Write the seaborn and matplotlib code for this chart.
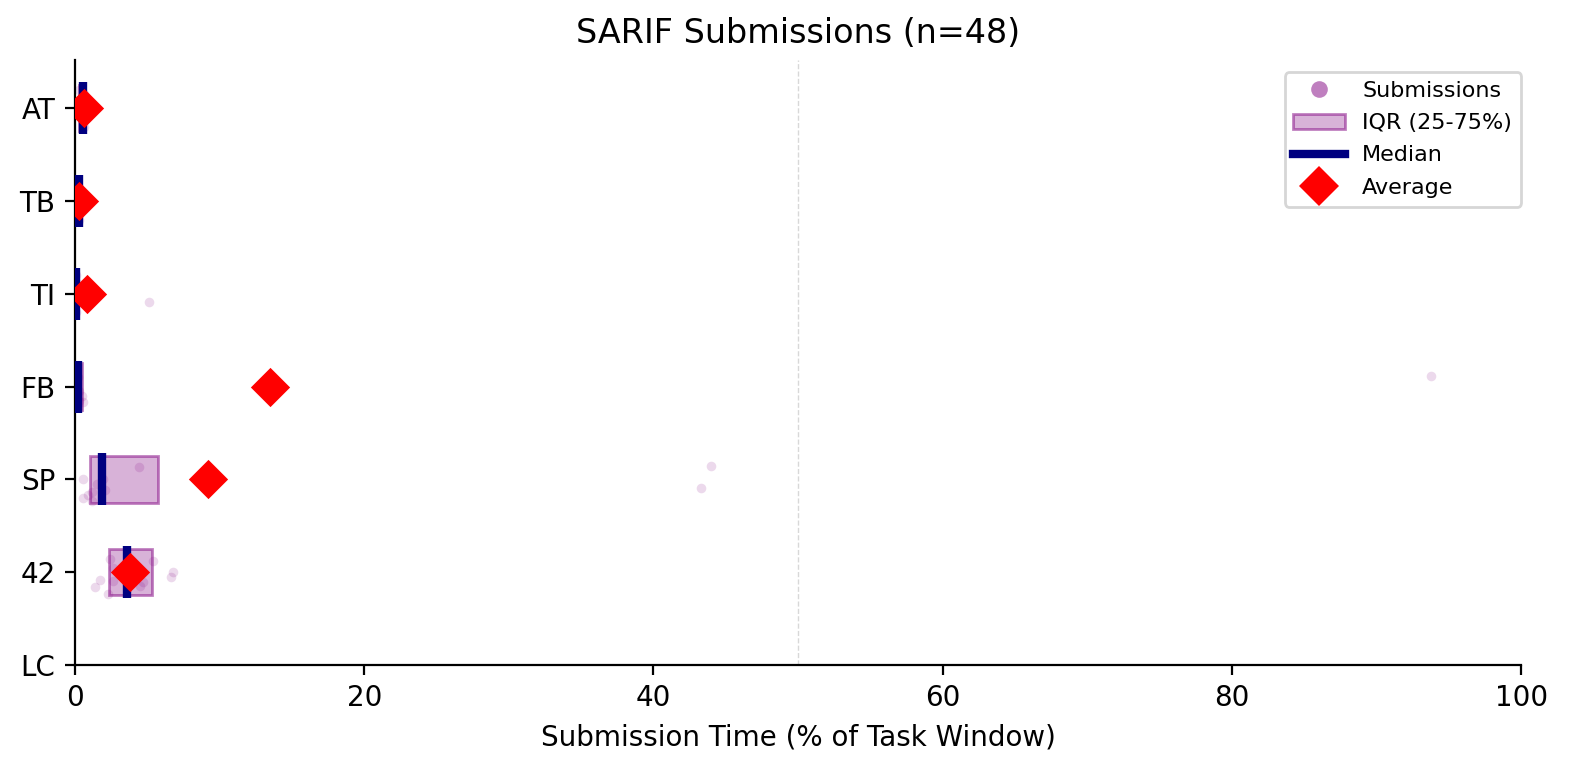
import numpy as np
import pandas as pd
import matplotlib
matplotlib.use("Agg")
import matplotlib.pyplot as plt
import seaborn as sns
from matplotlib.lines import Line2D
from matplotlib.patches import Patch

# categories, top to bottom
teams = ["AT", "TB", "TI", "FB", "SP", "42", "LC"]

# summary stats per team (% of task window)
q1 = [0.30, 0.15, 0.05, 0.10, 1.05, 2.35]
q3 = [0.60, 0.30, 0.15, 0.45, 5.75, 5.30]
medians = [0.55, 0.25, 0.10, 0.20, 1.85, 3.60]
averages = [0.65, 0.30, 0.80, 13.5, 9.2, 3.8]

# individual submissions and their vertical jitter
at_x = [0.30, 0.40, 0.50, 0.55, 0.60, 0.60]
at_dy = [-0.20, -0.10, 0.00, 0.10, 0.20, -0.15]
tb_x = [0.10, 0.20, 0.25, 0.30, 0.35]
tb_dy = [-0.15, 0.05, 0.20, -0.05, 0.10]
ti_x = [0.05, 0.08, 0.10, 0.10, 0.12, 0.15, 5.1]
ti_dy = [-0.20, -0.05, 0.10, 0.20, -0.12, 0.05, 0.09]
fb_x = [0.10, 0.20, 0.25, 0.30, 0.45, 0.55, 93.8]
fb_dy = [-0.20, -0.10, 0.05, 0.15, 0.10, 0.17, -0.12]
sp_x = [0.58, 4.43, 1.90, 2.07, 1.20, 0.92, 0.58, 1.20, 43.98, 43.3, 1.50]
sp_dy = [0.00, -0.13, 0.00, 0.11, 0.14, 0.17, 0.20, 0.23, -0.14, 0.09, 0.05]
t42_x = [2.42, 2.60, 5.42, 6.75, 6.64, 1.73, 2.65, 1.38, 2.30, 4.50, 3.20, 4.70]
t42_dy = [-0.14, -0.05, -0.12, 0.00, 0.05, 0.08, 0.09, 0.16, 0.23, 0.15, -0.02, 0.10]

groups = [(at_x, at_dy), (tb_x, tb_dy), (ti_x, ti_dy), (fb_x, fb_dy),
          (sp_x, sp_dy), (t42_x, t42_dy)]
rows = []
for i, (xs, dys) in enumerate(groups):
    for x, dy in zip(xs, dys):
        rows.append({"team": teams[i], "pct": x, "ypos": i + dy})
subs = pd.DataFrame(rows)

stats = pd.DataFrame({"team": teams[:6], "q1": q1, "q3": q3,
                      "median": medians, "avg": averages,
                      "ypos": np.arange(6)})

fig, ax = plt.subplots(figsize=(7.9, 3.88), dpi=200)
fig.subplots_adjust(left=0.0475, right=0.9627, top=0.9227, bottom=0.143)

sns.scatterplot(data=subs, x="pct", y="ypos", color="purple", alpha=0.15,
                s=12, linewidth=0, ax=ax, zorder=2)

ax.barh(stats["ypos"], stats["q3"] - stats["q1"], left=stats["q1"], height=0.5,
        facecolor=(0.5, 0, 0.5, 0.3), edgecolor=(0.5, 0, 0.5, 0.5),
        linewidth=1, zorder=3)

ax.vlines(stats["median"], stats["ypos"] - 0.28, stats["ypos"] + 0.28,
          color="navy", linewidth=3, zorder=4)

sns.scatterplot(data=stats, x="avg", y="ypos", marker="D", color="red",
                s=100, linewidth=0, ax=ax, zorder=5)

ax.axvline(50, color="gray", linestyle="--", linewidth=0.5, alpha=0.3, zorder=1)

ax.set_xlim(0, 100)
ax.set_ylim(6, -0.52)
ax.set_yticks(range(len(teams)))
ax.set_yticklabels(teams)
ax.set_ylabel("")
ax.set_xlabel("Submission Time (% of Task Window)")
ax.set_title("SARIF Submissions (n=48)")
sns.despine(ax=ax)

handles = [
    Line2D([0], [0], marker="o", linestyle="none", color="purple", alpha=0.5,
           markersize=6, markeredgewidth=0),
    Patch(facecolor=(0.5, 0, 0.5, 0.3), edgecolor=(0.5, 0, 0.5, 0.5), linewidth=1),
    Line2D([0], [0], color="navy", linewidth=3),
    Line2D([0], [0], marker="D", linestyle="none", color="red", markersize=10,
           markeredgewidth=0),
]
ax.legend(handles, ["Submissions", "IQR (25-75%)", "Median", "Average"],
          loc="upper right", bbox_to_anchor=(1.0, 0.98), borderaxespad=0,
          fontsize=8, handlelength=2.3, labelspacing=0.55)

fig.savefig("out.png", dpi=200)
